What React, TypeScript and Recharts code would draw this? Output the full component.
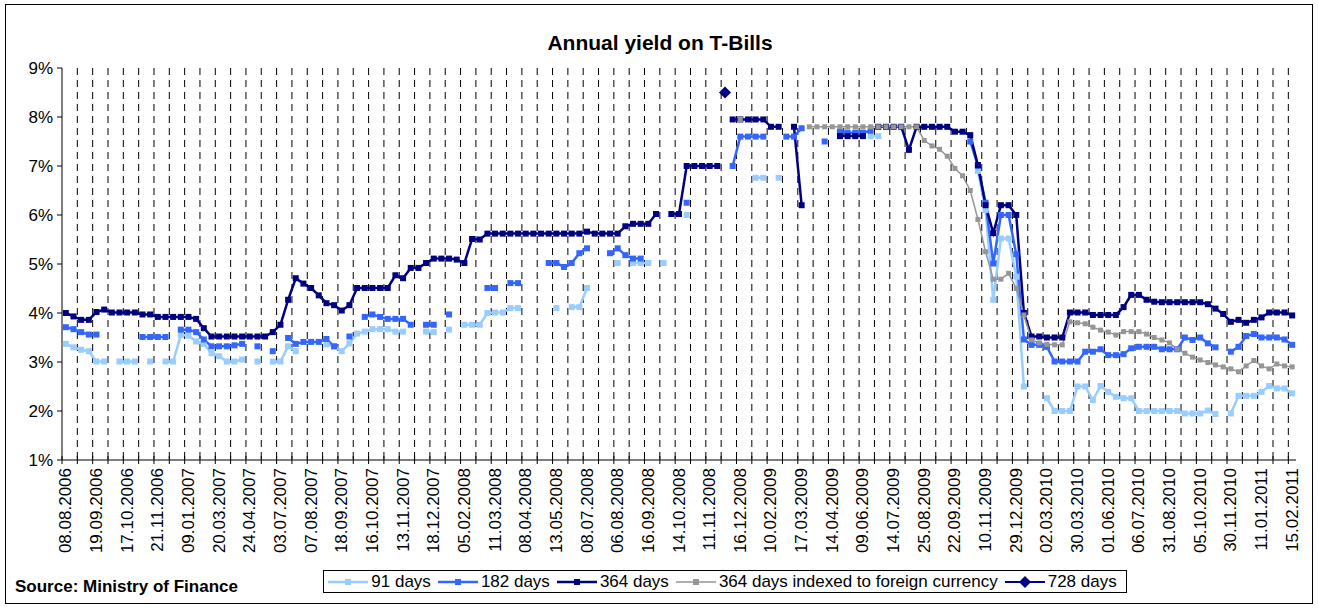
import { LineChart, Line, XAxis, YAxis, CartesianGrid } from "recharts";

const _ = null;

// every 4th auction date is printed on the axis
const dateLabels = [
  "08.08.2006", "19.09.2006", "17.10.2006", "21.11.2006", "09.01.2007", "20.03.2007",
  "24.04.2007", "03.07.2007", "07.08.2007", "18.09.2007", "16.10.2007", "13.11.2007",
  "18.12.2007", "05.02.2008", "11.03.2008", "08.04.2008", "13.05.2008", "08.07.2008",
  "06.08.2008", "16.09.2008", "14.10.2008", "11.11.2008", "16.12.2008", "10.02.2009",
  "17.03.2009", "14.04.2009", "09.06.2009", "14.07.2009", "25.08.2009", "22.09.2009",
  "10.11.2009", "29.12.2009", "02.03.2010", "30.03.2010", "01.06.2010", "06.07.2010",
  "31.08.2010", "05.10.2010", "30.11.2010", "11.01.2011", "15.02.2011",
];

const yield91 = [
  3.37, 3.30, 3.25, 3.22, 3.01, 3.01, _, 3.01, 3.01, 3.01,
  _, 3.01, _, 3.01, 3.01, 3.55, 3.54, 3.42, 3.37, 3.18,
  3.12, 3.01, 3.01, 3.05, _, 3.01, _, 3.01, 3.01, 3.32,
  3.22, _, _, _, 3.36, 3.32, 3.22, 3.38, 3.58, 3.62,
  3.67, 3.67, 3.67, 3.62, 3.62, _, _, 3.62, 3.61, _,
  3.66, _, 3.76, 3.76, 3.76, 4.00, 4.01, 4.01, 4.10, 4.10,
  _, _, _, _, 4.10, _, 4.12, 4.12, 4.51, _,
  _, _, 5.02, _, 5.02, 5.02, 5.02, _, 5.02, _,
  _, 6.00, _, _, _, _, _, _, _, _,
  6.76, 6.76, _, 6.76, _, _, _, _, _, _,
  _, _, _, _, _, 7.61, 7.61, _, _, _,
  _, _, _, _, _, _, _, _, _, 6.90,
  6.10, 4.27, 5.52, 5.52, 4.74, 2.50, _, _, 2.26, 2.00,
  2.00, 2.00, 2.50, 2.50, 2.22, 2.51, 2.39, 2.29, 2.26, 2.26,
  2.00, 2.00, 2.00, 2.00, 2.00, 2.00, 1.95, 1.95, 1.95, 2.01,
  1.94, _, 1.95, 2.31, 2.31, 2.31, 2.39, 2.51, 2.46, 2.46,
  2.36,
];

const yield182 = [
  3.71, 3.67, 3.61, 3.56, 3.56, _, _, _, _, _,
  3.51, 3.51, 3.51, 3.51, _, 3.66, 3.66, 3.61, 3.46, 3.32,
  3.32, 3.32, 3.34, 3.37, _, 3.32, _, 3.22, _, 3.49,
  3.37, 3.41, 3.41, 3.41, 3.47, 3.32, _, 3.52, _, 3.92,
  3.97, 3.92, 3.88, 3.88, 3.88, 3.76, _, 3.76, 3.76, _,
  3.97, _, _, _, _, 4.51, 4.51, _, 4.61, 4.61,
  _, _, _, 5.02, 5.02, 4.94, 5.02, 5.22, 5.32, _,
  _, 5.22, 5.32, 5.18, 5.11, 5.11, _, _, _, _,
  _, 6.25, _, _, _, _, _, 7.00, 7.60, 7.60,
  7.60, 7.60, _, _, 7.60, 7.60, 7.77, _, _, 7.50,
  _, 7.70, 7.68, 7.68, 7.68, 7.72, _, _, _, _,
  _, _, _, _, _, _, _, _, 7.50, 7.00,
  6.25, 5.01, 6.00, 6.00, 5.20, 3.46, 3.35, 3.35, 3.31, 3.01,
  3.01, 3.01, 3.01, 3.21, 3.21, 3.26, 3.14, 3.14, 3.16, 3.28,
  3.31, 3.31, 3.31, 3.26, 3.26, 3.26, 3.50, 3.45, 3.50, 3.38,
  3.30, _, 3.21, 3.31, 3.53, 3.57, 3.50, 3.50, 3.50, 3.46,
  3.35,
];

const yield364 = [
  4.00, 3.93, 3.86, 3.86, 4.02, 4.07, 4.01, 4.01, 4.01, 4.01,
  3.97, 3.97, 3.92, 3.92, 3.92, 3.92, 3.92, 3.88, 3.69, 3.52,
  3.52, 3.52, 3.52, 3.52, 3.52, 3.52, 3.52, 3.61, 3.76, 4.27,
  4.71, 4.60, 4.51, 4.36, 4.20, 4.16, 4.05, 4.16, 4.51, 4.51,
  4.51, 4.51, 4.51, 4.77, 4.71, 4.92, 4.92, 5.02, 5.11, 5.11,
  5.11, 5.09, 5.02, 5.51, 5.50, 5.62, 5.62, 5.62, 5.62, 5.62,
  5.62, 5.62, 5.62, 5.62, 5.62, 5.62, 5.62, 5.62, 5.66, 5.62,
  5.62, 5.62, 5.62, 5.77, 5.82, 5.82, 5.82, 6.02, _, 6.02,
  6.02, 7.00, 7.00, 7.00, 7.00, 7.00, _, 7.95, 7.95, 7.95,
  7.95, 7.95, 7.80, 7.80, _, 7.80, 6.20, _, _, _,
  _, 7.61, 7.61, 7.61, 7.61, _, 7.80, 7.80, 7.80, 7.80,
  7.33, 7.80, 7.80, 7.80, 7.80, 7.80, 7.70, 7.70, 7.63, 7.02,
  6.20, 5.63, 6.20, 6.20, 6.00, 4.00, 3.52, 3.52, 3.50, 3.50,
  3.50, 4.01, 4.01, 4.01, 3.96, 3.96, 3.96, 3.96, 4.12, 4.37,
  4.37, 4.27, 4.23, 4.22, 4.22, 4.22, 4.22, 4.22, 4.22, 4.18,
  4.09, 3.98, 3.82, 3.86, 3.80, 3.86, 3.91, 4.01, 4.01, 4.01,
  3.95,
];

// indexed paper only appears from auction #88 on
const indexedStart = 88;
const yield364fx = [
  7.95, _, _, _, _, _, _, _, _, 7.80,
  7.80, 7.80, 7.80, 7.80, 7.80, 7.80, 7.80, 7.80, 7.80, 7.80,
  7.80, 7.80, 7.80, 7.80, 7.52, 7.41, 7.34, 7.20, 6.95, 6.80,
  6.50, 5.91, 5.25, 4.69, 4.69, 4.81, 4.50, 3.96, 3.45, 3.39,
  3.36, 3.35, 3.35, 3.82, 3.80, 3.78, 3.71, 3.65, 3.61, 3.55,
  3.62, 3.62, 3.62, 3.57, 3.50, 3.45, 3.39, 3.26, 3.18, 3.10,
  3.04, 2.99, 2.94, 2.90, 2.86, 2.80, 2.92, 3.03, 2.92, 2.86,
  2.96, 2.92, 2.90,
];

// single 728-day auction
const start728 = 86;
const yield728 = [8.5];

const yTicks = [1, 2, 3, 4, 5, 6, 7, 8, 9];

const COUNT = yield364.length;
const FONT = "'Liberation Sans', Arial, sans-serif";
const PLOT_LEFT = 62;
const PLOT_RIGHT = 1296;
const STEP = (PLOT_RIGHT - PLOT_LEFT) / COUNT;

const chartData = yield364.map((v, i) => ({
  idx: i,
  d91: yield91[i],
  d182: yield182[i],
  d364: v,
  fx: i >= indexedStart ? yield364fx[i - indexedStart] ?? null : null,
  d728: i >= start728 ? yield728[i - start728] ?? null : null,
}));

const COLORS = {
  d91: "#99CCFF",
  d182: "#3366FF",
  d364: "#000080",
  fx: "#969696",
  d728: "#000080",
};

function squareDot(color: string, size: number) {
  return (props: any) => {
    const { cx, cy, index } = props;
    if (cx == null || cy == null) return <g key={index} />;
    return (
      <rect key={index} x={cx - size / 2} y={cy - size / 2} width={size} height={size} fill={color} />
    );
  };
}

function diamondDot(props: any) {
  const { cx, cy, index } = props;
  if (cx == null || cy == null) return <g key={index} />;
  const r = 6;
  return (
    <polygon
      key={index}
      points={`${cx},${cy - r} ${cx + r},${cy} ${cx},${cy + r} ${cx - r},${cy}`}
      fill={COLORS.d728}
    />
  );
}

function DateTick(props: any) {
  const { x, y, payload } = props;
  const i = payload.value as number;
  const bx = x - STEP / 2;
  const ly = y + 8;
  return (
    <g>
      {i % 2 === 0 && <line x1={bx} x2={bx} y1={y - 4} y2={y + 4} stroke="#000" />}
      {i % 4 === 0 && (
        <text
          x={x}
          y={ly}
          transform={`rotate(-90 ${x} ${ly})`}
          textAnchor="end"
          dominantBaseline="central"
          fontSize={17}
          fontFamily={FONT}
          fill="#000"
        >
          {dateLabels[i / 4]}
        </text>
      )}
    </g>
  );
}

// dashed lines sit on every second category boundary, like Excel tick marks
const boundaryLines = ({ offset }: any) => {
  const step = offset.width / COUNT;
  const xs: number[] = [];
  for (let k = 2; k < COUNT; k += 2) xs.push(offset.left + k * step);
  return xs;
};

const legendItems = [
  { key: "d91", label: "91 days", width: 2.5, marker: "square" },
  { key: "d182", label: "182 days", width: 2.5, marker: "square" },
  { key: "d364", label: "364 days", width: 2.5, marker: "square" },
  { key: "fx", label: "364 days indexed to foreign currency", width: 1.5, marker: "square" },
  { key: "d728", label: "728 days", width: 2, marker: "diamond" },
];

function LegendBox() {
  return (
    <div
      style={{
        position: "absolute",
        left: 323,
        top: 570,
        width: 804,
        height: 23,
        boxSizing: "border-box",
        border: "1px solid #000",
        display: "flex",
        alignItems: "center",
        justifyContent: "center",
        fontFamily: FONT,
        fontSize: 17,
        background: "#fff",
      }}
    >
      {legendItems.map((it) => {
        const c = (COLORS as any)[it.key];
        return (
          <div key={it.key} style={{ display: "flex", alignItems: "center", marginRight: 6 }}>
            <svg width={42} height={14}>
              <line x1={1} x2={41} y1={7} y2={7} stroke={c} strokeWidth={it.width} />
              {it.marker === "square" ? (
                <rect x={18} y={4} width={6} height={6} fill={c} />
              ) : (
                <polygon points="21,1 27,7 21,13 15,7" fill={c} />
              )}
            </svg>
            <span style={{ marginLeft: 2, lineHeight: "17px" }}>{it.label}</span>
          </div>
        );
      })}
    </div>
  );
}

export default function App() {
  return (
    <div style={{ position: "absolute", left: 0, top: 0, width: 1319, height: 610, background: "#fff" }}>
      <div
        style={{
          position: "absolute",
          left: 5,
          top: 4,
          width: 1308,
          height: 600,
          boxSizing: "border-box",
          border: "1px solid #000",
        }}
      />
      <div
        style={{
          position: "absolute",
          left: 0,
          width: 1320,
          top: 31,
          textAlign: "center",
          fontFamily: FONT,
          fontWeight: "bold",
          fontSize: 21,
        }}
      >
        Annual yield on T-Bills
      </div>
      <div style={{ position: "absolute" }}>
        <LineChart
          width={1319}
          height={610}
          data={chartData}
          margin={{ top: 68, right: 1319 - PLOT_RIGHT, bottom: 50, left: PLOT_LEFT - 55 }}
        >
          <CartesianGrid
            horizontal={false}
            vertical
            stroke="#000"
            strokeDasharray="7 5"
            verticalCoordinatesGenerator={boundaryLines}
          />
          <XAxis
            dataKey="idx"
            type="category"
            interval={0}
            height={100}
            tickSize={0}
            tickMargin={0}
            tickLine={false}
            axisLine={{ stroke: "#000" }}
            padding={{ left: STEP / 2, right: STEP / 2 }}
            tick={<DateTick />}
          />
          <YAxis
            type="number"
            domain={[1, 9]}
            ticks={yTicks}
            width={55}
            tickSize={5}
            tickMargin={4}
            tickLine={{ stroke: "#000" }}
            axisLine={{ stroke: "#000" }}
            tickFormatter={(v) => `${v}%`}
            tick={{ fill: "#000", fontSize: 17, fontFamily: FONT }}
          />
          <Line
            dataKey="d91"
            stroke={COLORS.d91}
            strokeWidth={2.5}
            dot={squareDot(COLORS.d91, 6)}
            activeDot={false}
            isAnimationActive={false}
          />
          <Line
            dataKey="d182"
            stroke={COLORS.d182}
            strokeWidth={2.5}
            dot={squareDot(COLORS.d182, 6)}
            activeDot={false}
            isAnimationActive={false}
          />
          <Line
            dataKey="d364"
            stroke={COLORS.d364}
            strokeWidth={2.5}
            dot={squareDot(COLORS.d364, 6)}
            activeDot={false}
            isAnimationActive={false}
          />
          <Line
            dataKey="fx"
            stroke={COLORS.fx}
            strokeWidth={1.5}
            dot={squareDot(COLORS.fx, 5)}
            activeDot={false}
            isAnimationActive={false}
          />
          <Line
            dataKey="d728"
            stroke={COLORS.d728}
            strokeWidth={2}
            dot={diamondDot}
            activeDot={false}
            isAnimationActive={false}
          />
        </LineChart>
      </div>
      <div
        style={{
          position: "absolute",
          left: 15,
          top: 577,
          fontFamily: FONT,
          fontWeight: "bold",
          fontSize: 17,
        }}
      >
        Source: Ministry of Finance
      </div>
      <LegendBox />
    </div>
  );
}
